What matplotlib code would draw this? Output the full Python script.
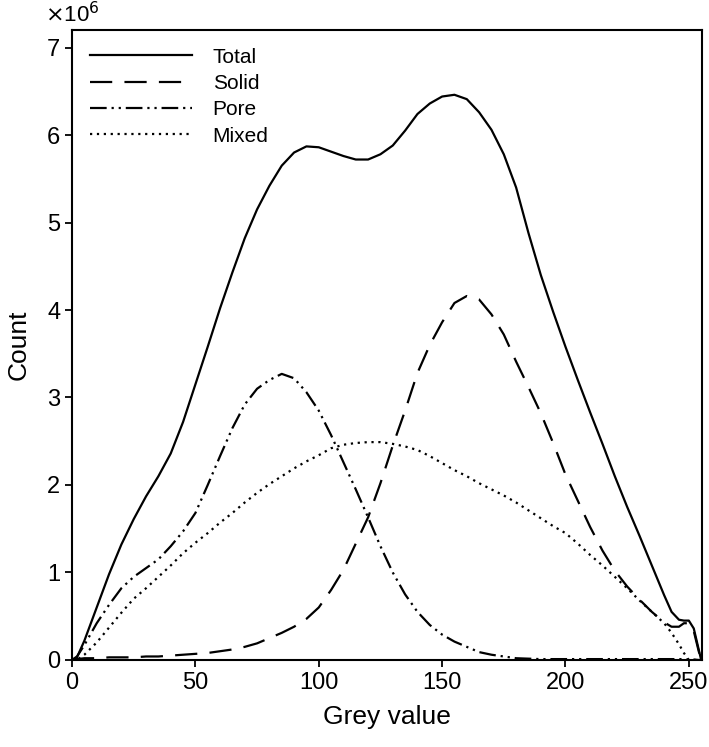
import matplotlib
matplotlib.use("Agg")
import matplotlib.pyplot as plt

plt.rcParams['font.family'] = ['Liberation Sans', 'DejaVu Sans']

# grey values (x) and counts in units of 1e6
grey = [0, 2, 5, 10, 15, 20, 25, 30, 35, 40, 45, 50, 55, 60, 65, 70, 75, 80, 85, 90,
        95, 100, 105, 110, 115, 120, 125, 130, 135, 140, 145, 150, 155, 160, 165, 170,
        175, 180, 185, 190, 195, 200, 205, 210, 215, 220, 225, 230, 235, 240, 243, 246,
        248, 250, 252, 254, 255]

total = [0, 0.03, 0.22, 0.6, 0.98, 1.32, 1.61, 1.87, 2.1, 2.36, 2.72, 3.15, 3.58, 4.02,
         4.43, 4.82, 5.15, 5.42, 5.65, 5.8, 5.87, 5.86, 5.81, 5.76, 5.72, 5.72, 5.78,
         5.88, 6.05, 6.24, 6.36, 6.44, 6.46, 6.41, 6.26, 6.06, 5.78, 5.4, 4.88, 4.4,
         3.98, 3.58, 3.2, 2.83, 2.47, 2.1, 1.75, 1.42, 1.08, 0.74, 0.55, 0.46, 0.45, 0.45,
         0.36, 0.12, 0]

solid = [0, 0.01, 0.02, 0.02, 0.03, 0.03, 0.03, 0.04, 0.04, 0.05, 0.06, 0.07, 0.08,
         0.1, 0.12, 0.15, 0.19, 0.25, 0.31, 0.38, 0.47, 0.6, 0.8, 1.03, 1.33, 1.63, 2.02,
         2.45, 2.85, 3.28, 3.6, 3.86, 4.08, 4.16, 4.12, 3.95, 3.72, 3.41, 3.12, 2.82,
         2.48, 2.12, 1.82, 1.52, 1.25, 1.02, 0.84, 0.69, 0.55, 0.43, 0.38, 0.38, 0.42,
         0.42, 0.33, 0.1, 0]

pore = [0, 0.04, 0.17, 0.42, 0.63, 0.82, 0.95, 1.05, 1.15, 1.3, 1.47, 1.68, 2.0, 2.33,
        2.65, 2.92, 3.1, 3.2, 3.27, 3.22, 3.06, 2.85, 2.57, 2.26, 1.95, 1.63, 1.3, 1.0,
        0.75, 0.55, 0.4, 0.29, 0.21, 0.15, 0.09, 0.06, 0.04, 0.02, 0.015, 0.01, 0.01,
        0.01, 0.01, 0.01, 0.01, 0.01, 0.01, 0.01, 0.01, 0.01, 0.01, 0.01, 0.01, 0.005,
        0.005, 0, 0]

mixed = [0, 0.0, 0.06, 0.2, 0.37, 0.54, 0.7, 0.82, 0.95, 1.08, 1.22, 1.34, 1.45, 1.57,
         1.68, 1.8, 1.91, 2.01, 2.1, 2.19, 2.27, 2.34, 2.42, 2.46, 2.48, 2.49, 2.49, 2.47,
         2.44, 2.4, 2.33, 2.25, 2.17, 2.1, 2.02, 1.95, 1.88, 1.8, 1.71, 1.62, 1.53, 1.45,
         1.33, 1.2, 1.08, 0.95, 0.82, 0.68, 0.55, 0.42, 0.31, 0.18, 0.08, 0.0, 0, 0, 0]

fig = plt.figure(figsize=(7.09, 7.47), dpi=100)
ax = fig.add_axes([0.1016, 0.1165, 0.8884, 0.8433])

lw = 1.6
ax.plot(grey, total, color="black", lw=lw, label="Total")
ax.plot(grey, solid, color="black", lw=lw, dashes=(10, 5.5), label="Solid")
ax.plot(grey, pore, color="black", lw=lw, dashes=(7.5, 2.2, 1, 2.2, 1, 2.2), label="Pore")
ax.plot(grey, mixed, color="black", lw=lw, dashes=(1, 2.1), label="Mixed")

ax.set_xlim(0, 255.3)
ax.set_ylim(0, 7.2)
ax.set_xticks([0, 50, 100, 150, 200, 250])
ax.set_yticks(range(8))
ax.tick_params(direction="out", length=5, width=1.3, labelsize=17, top=False, right=False)
for s in ax.spines.values():
    s.set_linewidth(1.5)

ax.set_xlabel("Grey value", fontsize=19, labelpad=8)
ax.set_ylabel("Count", fontsize=19, labelpad=12)
fig.text(0.063, 0.997, r"$\times$10$^6$", fontsize=16, va="top", ha="left")

ax.legend(loc="upper left", frameon=False, fontsize=15, handlelength=4.9,
          handletextpad=1.0, labelspacing=0.35, borderaxespad=0.45,
          bbox_to_anchor=(0.0, 1.0))

fig.savefig("out.png", dpi=100)
